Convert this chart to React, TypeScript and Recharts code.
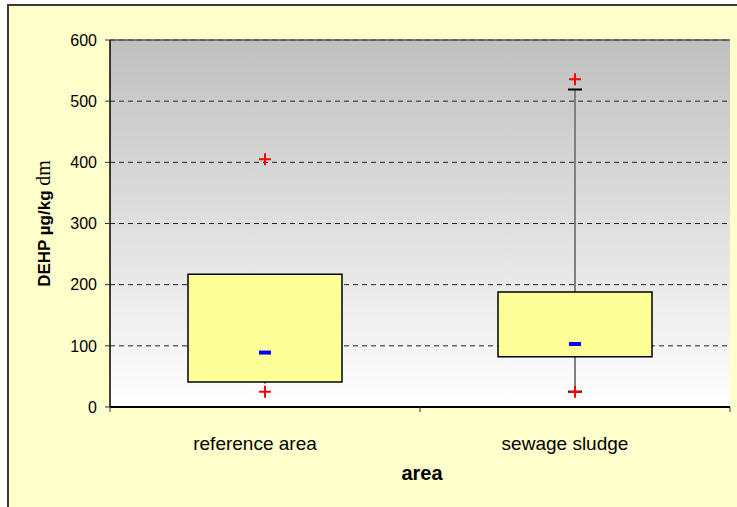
import React from 'react';
import {
  ComposedChart,
  Bar,
  Scatter,
  XAxis,
  YAxis,
  CartesianGrid,
  Label,
  ReferenceLine,
} from 'recharts';

const categories = ['reference area', 'sewage sludge'];
const positions = [0.5, 1.5];
const q1 = [41, 82];
const q3 = [217, 188];
const median = [89, 103];
const whiskerLow = [38, 25];
const whiskerHigh = [217, 519];
const capLow: (number | null)[] = [null, 25];
const capHigh: (number | null)[] = [null, 519];
const outHigh = [405, 536];
const outLow = [25, 25];
const yTicks = [0, 100, 200, 300, 400, 500, 600];
const xTicks = [0, 0.5, 1, 1.5, 2];

const data = categories.map((name, i) => ({
  name,
  pos: positions[i],
  box: [q1[i], q3[i]],
  whisker: [whiskerLow[i], whiskerHigh[i]],
  median: median[i],
  capLow: capLow[i],
  capHigh: capHigh[i],
  outHigh: outHigh[i],
  outLow: outLow[i],
}));

const FONT = "Arial, 'Liberation Sans', sans-serif";

const Plus = (props: any) => {
  const { cx, cy } = props;
  if (!Number.isFinite(cx) || !Number.isFinite(cy)) return <g />;
  return (
    <g stroke="#FF0000" strokeWidth={2}>
      <line x1={cx - 6} x2={cx + 6} y1={cy} y2={cy} />
      <line x1={cx} x2={cx} y1={cy - 6} y2={cy + 6} />
    </g>
  );
};

const MedianMark = (props: any) => {
  const { cx, cy } = props;
  if (!Number.isFinite(cx) || !Number.isFinite(cy)) return <g />;
  return <rect x={cx - 6} y={cy - 2} width={12} height={4} fill="#0000FF" />;
};

const Cap = (props: any) => {
  const { cx, cy } = props;
  if (!Number.isFinite(cx) || !Number.isFinite(cy)) return <g />;
  return <line x1={cx - 7} x2={cx + 7} y1={cy} y2={cy} stroke="#000" strokeWidth={2} />;
};

// category labels sit at the half positions, tick marks at the integer ones
const XTick = (props: any) => {
  const { x, y, payload } = props;
  const v = payload.value;
  if (Number.isInteger(v)) {
    return <line x1={x} x2={x} y1={y} y2={y + 5} stroke="#333" strokeWidth={1} />;
  }
  return (
    <text x={x - 10} y={y + 43} textAnchor="middle" fill="#000" fontFamily={FONT} fontSize={19}>
      {categories[Math.floor(v)]}
    </text>
  );
};

const YTitle = (props: any) => {
  const { viewBox } = props;
  const cx = 41;
  const cy = viewBox.y + viewBox.height / 2;
  return (
    <text
      x={cx}
      y={cy}
      transform={`rotate(-90 ${cx} ${cy})`}
      textAnchor="middle"
      fill="#000"
    >
      <tspan fontFamily={FONT} fontWeight="bold" fontSize={17}>
        DEHP µg/kg{' '}
      </tspan>
      <tspan fontFamily="'Times New Roman', 'Liberation Serif', serif" fontSize={20}>
        dm
      </tspan>
    </text>
  );
};

const XTitle = (props: any) => {
  const { viewBox } = props;
  return (
    <text
      x={viewBox.x + viewBox.width / 2 + 2}
      y={474}
      textAnchor="middle"
      fill="#000"
      fontFamily={FONT}
      fontWeight="bold"
      fontSize={20}
    >
      area
    </text>
  );
};

export default function App() {
  return (
    <div style={{ position: 'absolute', left: 0, top: 0, width: 737, height: 507, overflow: 'hidden' }}>
      <div
        style={{
          position: 'absolute',
          left: 7,
          top: 4,
          width: 740,
          height: 512,
          border: '2px solid #3a3a3a',
          background: '#FFFFCC',
        }}
      >
        <ComposedChart
          width={740}
          height={512}
          data={data}
          margin={{ top: 34, right: 19, left: 20, bottom: 51 }}
        >
          <defs>
            <linearGradient id="plotBg" x1="0" y1="0" x2="0" y2="1">
              <stop offset="0%" stopColor="#C0C0C0" />
              <stop offset="100%" stopColor="#FFFFFF" />
            </linearGradient>
          </defs>
          <CartesianGrid
            vertical={false}
            stroke="#222"
            strokeDasharray="5 4"
            fill="url(#plotBg)"
            fillOpacity={1}
          />
          <ReferenceLine y={600} stroke="#555" strokeWidth={1.5} />
          <XAxis
            xAxisId="main"
            type="number"
            dataKey="pos"
            domain={[0, 2]}
            ticks={xTicks}
            allowDataOverflow
            height={60}
            tickSize={0}
            tickMargin={0}
            tickLine={false}
            tick={<XTick />}
            axisLine={{ stroke: '#000', strokeWidth: 2 }}
          >
            <Label content={<XTitle />} />
          </XAxis>
          <XAxis xAxisId="zw" dataKey="name" hide height={0} />
          <XAxis xAxisId="zbox" dataKey="name" hide height={0} />
          <YAxis
            domain={[0, 600]}
            ticks={yTicks}
            width={81}
            tickSize={5}
            tickMargin={8}
            axisLine={{ stroke: '#000', strokeWidth: 1.5 }}
            tickLine={{ stroke: '#333' }}
            tick={{ fontSize: 16, fill: '#000', fontFamily: FONT }}
          >
            <Label content={<YTitle />} />
          </YAxis>
          <YAxis
            yAxisId="right"
            orientation="right"
            domain={[0, 600]}
            width={0}
            tick={false}
            tickLine={false}
            axisLine={{ stroke: '#444', strokeWidth: 1.5 }}
          />
          <Bar xAxisId="zw" dataKey="whisker" barSize={2} fill="#808080" isAnimationActive={false} />
          <Bar
            xAxisId="zbox"
            dataKey="box"
            barSize={154}
            fill="#FFFF99"
            stroke="#000"
            strokeWidth={1.5}
            isAnimationActive={false}
          />
          <Scatter xAxisId="main" dataKey="capHigh" shape={<Cap />} isAnimationActive={false} />
          <Scatter xAxisId="main" dataKey="capLow" shape={<Cap />} isAnimationActive={false} />
          <Scatter xAxisId="main" dataKey="median" shape={<MedianMark />} isAnimationActive={false} />
          <Scatter xAxisId="main" dataKey="outHigh" shape={<Plus />} isAnimationActive={false} />
          <Scatter xAxisId="main" dataKey="outLow" shape={<Plus />} isAnimationActive={false} />
        </ComposedChart>
      </div>
    </div>
  );
}
